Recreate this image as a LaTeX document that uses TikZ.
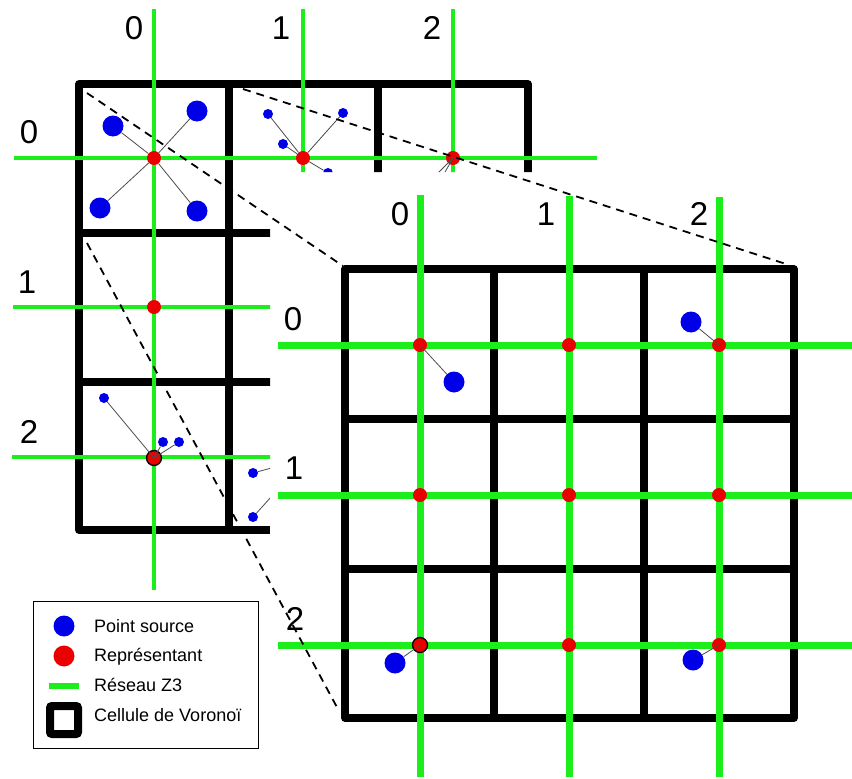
\documentclass[tikz,border=0pt]{standalone}
\usepackage{fontspec}
\setmainfont{Liberation Sans}
\definecolor{lgreen}{RGB}{28,238,28}
\definecolor{pred}{RGB}{235,0,0}
\definecolor{pblue}{RGB}{0,0,232}
\begin{document}
\begin{tikzpicture}[x=1pt,y=-1pt,
  wall/.style={line width=7.5pt,line join=round},
  thingreen/.style={draw=lgreen,line width=4pt},
  thickgreen/.style={draw=lgreen,line width=7pt},
  reddot/.style={circle,fill=pred,inner sep=0pt,minimum size=14pt},
  redring/.style={circle,fill=pred,draw=black,line width=1.3pt,inner sep=0pt,minimum size=15pt},
  bluebig/.style={circle,fill=pblue,inner sep=0pt,minimum size=21pt},
  bluesmall/.style={circle,fill=pblue,inner sep=0pt,minimum size=10pt},
  link/.style={draw=black!70,line width=0.8pt},
  zoomline/.style={line width=1.8pt,dash pattern=on 8pt off 6pt},
  lab/.style={font=\fontsize{33}{38}\selectfont,inner sep=0pt,anchor=base},
  legtext/.style={font=\fontsize{18}{22}\selectfont,inner sep=0pt,anchor=base west}]
\useasboundingbox (0,0) rectangle (852,779);

% ---------- small grid (left) ----------
\begin{scope}
\clip (0,0) -- (852,0) -- (852,172) -- (270,172) -- (270,779) -- (0,779) -- cycle;
\draw[wall] (270,530) -- (79,530) -- (79,84) -- (528,84) -- (528,190);
\draw[wall] (229,84) -- (229,530);
\draw[wall] (378,84) -- (378,190);
\draw[wall] (79,233) -- (280,233);
\draw[wall] (79,382) -- (280,382);
\draw[thingreen] (154,9) -- (154,590);
\draw[thingreen] (303,9) -- (303,190);
\draw[thingreen] (453,9) -- (453,190);
\draw[thingreen] (14,158) -- (597,158);
\draw[thingreen] (13,307) -- (280,307);
\draw[thingreen] (12,457) -- (280,457);
% cell (0,0)
\node[reddot] (r00) at (154,158) {};
\node[bluebig] (a1) at (113,126) {};
\node[bluebig] (a2) at (197,111) {};
\node[bluebig] (a3) at (100,208) {};
\node[bluebig] (a4) at (197,211) {};
\foreach \b in {a1,a2,a3,a4} \draw[link] (\b) -- (r00);
% cell (1,0)
\node[reddot] (r10) at (303,158) {};
\node[bluesmall] (s1) at (268,114) {};
\node[bluesmall] (s2) at (343,113) {};
\node[bluesmall] (s3) at (283,144) {};
\node[bluesmall] (s4) at (328,173) {};
\foreach \b in {s1,s2,s3,s4} \draw[link] (\b) -- (r10);
% cell (2,0)
\node[reddot] (r20) at (453,158) {};
\coordinate (f1) at (423,188);
\coordinate (f2) at (436,188);
\draw[link] (r20.center) -- (f1);
\draw[link] (r20.center) -- (f2);
% cell (0,1)
\node[reddot] (r01) at (154,307) {};
% cell (0,2)
\node[redring] (r02) at (154,458) {};
\node[bluesmall] (t1) at (104,398) {};
\node[bluesmall] (t2) at (163,442) {};
\node[bluesmall] (t3) at (179,442) {};
\foreach \b in {t1,t2,t3} \draw[link] (\b) -- (r02.center);
% cell (1,2)
\node[bluesmall] (u1) at (253,473) {};
\node[bluesmall] (u2) at (253,517) {};
\coordinate (g1) at (290,463);
\coordinate (g2) at (290,476);
\draw[link] (u1) -- (g1);
\draw[link] (u2) -- (g2);
\end{scope}

% labels small grid
\node[lab] (sc0) at (134,39) {0};
\node[lab] (sc1) at (281,39) {1};
\node[lab] (sc2) at (432,39) {2};
\node[lab] (sr0) at (29,143) {0};
\node[lab] (sr1) at (27,293) {1};
\node[lab] (sr2) at (29,443) {2};

% ---------- big grid ----------
\draw[wall] (345,269) rectangle (794,718);
\draw[wall] (494,269) -- (494,718);
\draw[wall] (644,269) -- (644,718);
\draw[wall] (345,419) -- (794,419);
\draw[wall] (345,569) -- (794,569);
\draw[thickgreen] (420,195) -- (420,777);
\draw[thickgreen] (569,196) -- (569,777);
\draw[thickgreen] (719,197) -- (719,777);
\draw[thickgreen] (278,345) -- (852,345);
\draw[thickgreen] (278,495) -- (852,495);
\draw[thickgreen] (278,645) -- (852,645);

\node[reddot] (R00) at (420,345) {};
\node[reddot] (R10) at (569,345) {};
\node[reddot] (R20) at (719,345) {};
\node[reddot] (R01) at (420,495) {};
\node[reddot] (R11) at (569,495) {};
\node[reddot] (R21) at (719,495) {};
\node[redring] (R02) at (420,645) {};
\node[reddot] (R12) at (569,645) {};
\node[reddot] (R22) at (719,645) {};

\node[bluebig] (B1) at (454,382) {};
\node[bluebig] (B2) at (691,322) {};
\node[bluebig] (B3) at (395,663) {};
\node[bluebig] (B4) at (693,660) {};
\draw[link] (B1) -- (R00.center);
\draw[link] (B2) -- (R20.center);
\draw[link] (B3) -- (R02.center);
\draw[link] (B4) -- (R22.center);

\node[lab] (bc0) at (400,225) {0};
\node[lab] (bc1) at (546,225) {1};
\node[lab] (bc2) at (699,225) {2};
\node[lab] (br0) at (293,330) {0};
\node[lab] (br1) at (294,479) {1};
\node[lab] (br2) at (295,630) {2};

% ---------- zoom lines ----------
\coordinate (z1a) at (87,93);   \coordinate (z1b) at (343,266);
\coordinate (z2a) at (243,89);  \coordinate (z2b) at (786,264);
\coordinate (z3a) at (87,243);  \coordinate (z3b) at (339,711);
\draw[zoomline] (z1a) -- (z1b);
\draw[zoomline] (z2a) -- (z2b);
\draw[zoomline] (z3a) -- (z3b);

% ---------- legend ----------
\node[draw=black,line width=1pt,minimum width=225pt,minimum height=147pt,inner sep=0pt] (leg) at (145.5,674.5) {};
\node[bluebig] (kb) at (64,626) {};
\node[legtext] (kt1) at (94,632) {Point source};
\node[circle,fill=pred,inner sep=0pt,minimum size=21pt] (kr) at (64,656) {};
\node[legtext] (kt2) at (94,661) {Représentant};
\coordinate (kg1) at (49,686); \coordinate (kg2) at (79,686);
\draw[draw=lgreen,line width=6pt] (kg1) -- (kg2);
\node[legtext] (kt3) at (94,691) {Réseau Z3};
\node[draw=black,line width=8pt,rounded corners=2pt,minimum size=28pt,inner sep=0pt] (ks) at (64,720) {};
\node[legtext] (kt4) at (94,721) {Cellule de Voronoï};
\end{tikzpicture}
\end{document}
